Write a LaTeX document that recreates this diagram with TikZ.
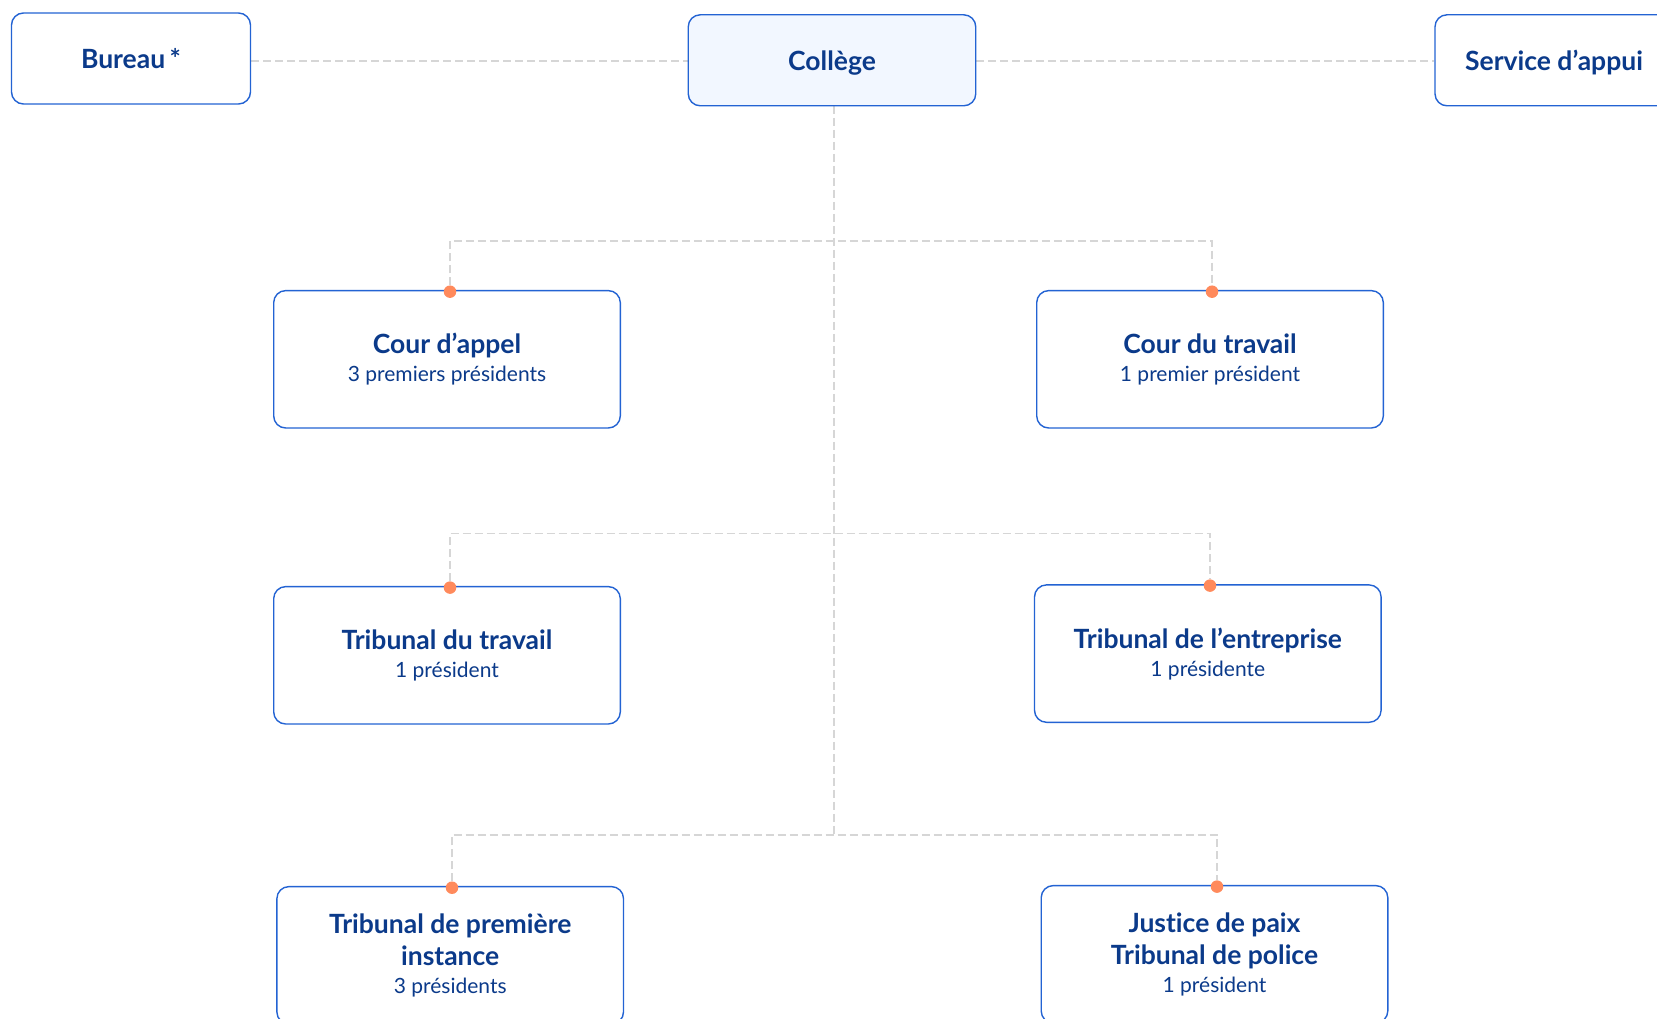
\documentclass[tikz,border=0pt]{standalone}
\usepackage{fontspec}
\setmainfont[Ligatures={NoCommon}]{Lato}
\usetikzlibrary{backgrounds}
\definecolor{boxblue}{HTML}{2363D3}
\definecolor{txtblue}{HTML}{0B3A8A}
\definecolor{dashgray}{HTML}{D6D6D6}
\definecolor{dotorange}{HTML}{FF8A5C}
\definecolor{lightfill}{HTML}{F2F7FF}
\newcommand\ttlline[1]{{\fontsize{26.5}{30}\selectfont\bfseries #1}}
\newcommand\subline[1]{{\fontsize{21}{26}\selectfont #1}}
\begin{document}
\begin{tikzpicture}[x=1pt,y=-1pt,
  box/.style={draw=boxblue,line width=1.4pt,rounded corners=12pt,fill=white,
    minimum width=346.6pt,minimum height=137.4pt,align=center,text=txtblue,inner sep=0pt,
    font=\fontsize{21}{28}\selectfont},
  topbox/.style={box,minimum height=91pt},
  lowtext/.style={text height=25pt,text depth=4pt},
  conn/.style={draw=dashgray,line width=1.4pt,dash pattern=on 8pt off 4pt},
  dot/.style={circle,fill=dotorange,inner sep=0pt,minimum size=12.5pt}]
\useasboundingbox (0,0) rectangle (1657,1019);
% top row
\node[topbox,minimum width=239pt] (bureau) at (131,58.5) {\ttlline{Bureau\,*}};
\node[topbox,lowtext,minimum width=287.5pt,fill=lightfill] (college) at (832,60.3) {\ttlline{Collège}};
\node[topbox,lowtext,minimum width=238pt] (service) at (1554,60.3) {\ttlline{Service d’appui}};
% second row
\node[box] (ca) at (447,359.3) {\ttlline{Cour d’appel}\\\subline{3 premiers présidents}};
\node[box] (ct) at (1210,359.3) {\ttlline{Cour du travail}\\\subline{1 premier président}};
% third row
\node[box] (tt) at (447,655.3) {\ttlline{Tribunal du travail}\\\subline{1 président}};
\node[box] (te) at (1207.8,653.6) {\ttlline{Tribunal de l’entreprise}\\\subline{1 présidente}};
% fourth row
\node[box] (tpi) at (450.2,955.3) {\ttlline{Tribunal de première}\\[3.5pt]\ttlline{instance}\\\subline{3 présidents}};
\node[box] (jp) at (1214.5,954.3) {\ttlline{Justice de paix}\\[3.5pt]\ttlline{Tribunal de police}\\\subline{1 président}};
% dots
\node[dot] (dca) at (450,291.7) {};
\node[dot] (dct) at (1212,291.7) {};
\node[dot] (dtt) at (450,587.6) {};
\node[dot] (dte) at (1210,585.6) {};
\node[dot] (dtpi) at (452,887.7) {};
\node[dot] (djp) at (1217,886.6) {};
% spine coordinates
\coordinate (s0) at (834,105.8);
\coordinate (s1) at (834,241);
\coordinate (s2) at (834,533.7);
\coordinate (s3) at (834,834.8);
\begin{scope}[on background layer]
\draw[conn] (bureau.east |- 0,61) -- (college.west |- 0,61);
\draw[conn] (college.east |- 0,61) -- (service.west |- 0,61);
\draw[conn] (s0) -- (s3);
\draw[conn] (dca) |- (s1) -| (dct);
\draw[conn] (dtt) |- (s2) -| (dte);
\draw[conn] (dtpi) |- (s3) -| (djp);
\end{scope}
\end{tikzpicture}
\end{document}
